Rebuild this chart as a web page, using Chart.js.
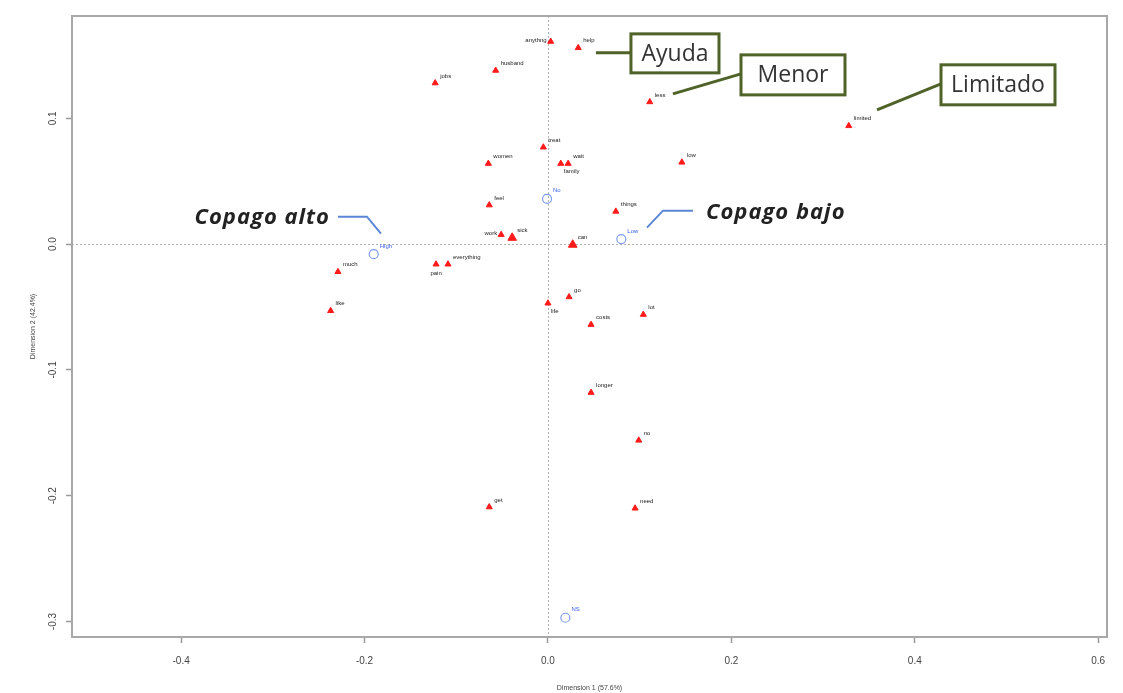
<!DOCTYPE html>
<html>
<head>
<meta charset="utf-8">
<script src="https://cdn.jsdelivr.net/npm/chart.js@4/dist/chart.umd.min.js"></script>
<style>
html,body{margin:0;padding:0;background:#fff;}
#wrap{position:relative;width:1123px;height:693px;}
</style>
</head>
<body>
<div id="wrap"><canvas id="c"></canvas></div>
<script>
// ---- data ----
const termLabels = ['anythng','help','husband','jobs','less','limited','treat','women','family','wait','low','feel','things','work','sick','can','much','everything','pain','like','life','go','costs','lot','longer','no','get','need'];
const termX = [0.003,0.033,-0.057,-0.123,0.111,0.328,-0.005,-0.065,0.014,0.022,0.146,-0.064,0.074,-0.051,-0.039,0.027,-0.229,-0.109,-0.122,-0.237,0.000,0.023,0.047,0.104,0.047,0.099,-0.064,0.095];
const termY = [0.161,0.156,0.138,0.128,0.113,0.094,0.077,0.064,0.064,0.064,0.065,0.031,0.026,0.0075,0.005,-0.0005,-0.022,-0.016,-0.016,-0.053,-0.047,-0.042,-0.064,-0.056,-0.118,-0.156,-0.209,-0.210];
const levelLabels = ['No','Low','High','NS'];
const levelX = [-0.001,0.080,-0.190,0.019];
const levelY = [0.036,0.004,-0.008,-0.297];
const xTicks = [-0.4,-0.2,0.0,0.2,0.4,0.6];
const yTicks = [0.1,0.0,-0.1,-0.2,-0.3];
const xTitle = 'Dimension 1 (57.6%)';
const yTitle = 'Dimension 2 (42.4%)';
const calloutBoxes = [
  {text:'Ayuda',    box:[0.0905,0.1671,0.1865,0.1361], line:[[0.0523,0.152],[0.0905,0.152]]},
  {text:'Menor',    box:[0.2105,0.1504,0.3239,0.1186], line:[[0.1363,0.1194],[0.2105,0.1353]]},
  {text:'Limitado', box:[0.4286,0.1425,0.5529,0.1107], line:[[0.3588,0.1067],[0.4286,0.1274]]}
];
const calloutTexts = [
  {text:'Copago bajo', at:[0.1723,0.025], align:'left',  line:[[0.108,0.0131],[0.1254,0.0266],[0.1581,0.0266]]},
  {text:'Copago alto', at:[-0.2377,0.021], align:'right', line:[[-0.229,0.0218],[-0.1974,0.0218],[-0.1821,0.0083]]}
];

const termPts = termX.map((x,i)=>({x:x,y:termY[i]}));
const levelPts = levelX.map((x,i)=>({x:x,y:levelY[i]}));
const bigTerms = ['sick','can'];
const labelPlace = {anythng:'left', work:'left', pain:'below', family:'belowR', life:'belowR'};

const overlay = {
  id:'overlay',
  beforeDatasetsDraw(chart){
    const {ctx, chartArea:a, scales:{x,y}} = chart;
    ctx.save();
    ctx.strokeStyle = '#b0b0b0'; ctx.lineWidth = 1; ctx.setLineDash([2,2]);
    const x0 = Math.round(x.getPixelForValue(0))+0.5, y0 = Math.round(y.getPixelForValue(0))+0.5;
    ctx.beginPath(); ctx.moveTo(x0,a.top); ctx.lineTo(x0,a.bottom); ctx.stroke();
    ctx.beginPath(); ctx.moveTo(a.left,y0); ctx.lineTo(a.right,y0); ctx.stroke();
    ctx.setLineDash([]);
    ctx.strokeStyle = '#a8a8a8'; ctx.lineWidth = 2;
    ctx.strokeRect(a.left, a.top, a.right-a.left, a.bottom-a.top);
    ctx.restore();
  },
  afterDatasetsDraw(chart){
    const {ctx, scales:{x,y}} = chart;
    ctx.save();
    // point labels
    ctx.font = '6px "Liberation Sans", Arial, sans-serif';
    ctx.textBaseline = 'middle';
    chart.getDatasetMeta(0).data.forEach((el,i)=>{
      const lab = termLabels[i], p = labelPlace[lab];
      ctx.fillStyle = '#222';
      if (p==='left'){ ctx.textAlign='right'; ctx.fillText(lab, el.x-4, el.y-1); }
      else if (p==='below'){ ctx.textAlign='center'; ctx.fillText(lab, el.x, el.y+9); }
      else if (p==='belowR'){ ctx.textAlign='left'; ctx.fillText(lab, el.x+3, el.y+8); }
      else { ctx.textAlign='left'; ctx.fillText(lab, el.x+5, el.y-7); }
    });
    chart.getDatasetMeta(1).data.forEach((el,i)=>{
      ctx.fillStyle = '#3a5ff0'; ctx.textAlign='left';
      ctx.fillText(levelLabels[i], el.x+6, el.y-8);
    });
    // callouts with boxes
    calloutBoxes.forEach(c=>{
      ctx.strokeStyle = '#4f6228'; ctx.lineWidth = 3;
      ctx.beginPath();
      c.line.forEach((pt,k)=>{ const px=x.getPixelForValue(pt[0]), py=y.getPixelForValue(pt[1]); k?ctx.lineTo(px,py):ctx.moveTo(px,py); });
      ctx.stroke();
      const x1=x.getPixelForValue(c.box[0]), y1=y.getPixelForValue(c.box[1]), x2=x.getPixelForValue(c.box[2]), y2=y.getPixelForValue(c.box[3]);
      ctx.fillStyle='#fff'; ctx.fillRect(x1,y1,x2-x1,y2-y1);
      ctx.strokeRect(x1,y1,x2-x1,y2-y1);
      ctx.fillStyle='#333'; ctx.font='23px "Open Sans", sans-serif'; ctx.textAlign='center'; ctx.textBaseline='middle';
      ctx.fillText(c.text,(x1+x2)/2,(y1+y2)/2+1);
    });
    calloutTexts.forEach(c=>{
      ctx.strokeStyle = '#5b86d6'; ctx.lineWidth = 2;
      ctx.beginPath();
      c.line.forEach((pt,k)=>{ const px=x.getPixelForValue(pt[0]), py=y.getPixelForValue(pt[1]); k?ctx.lineTo(px,py):ctx.moveTo(px,py); });
      ctx.stroke();
      ctx.fillStyle='#222'; ctx.font='italic bold 22px "Open Sans", sans-serif'; ctx.textAlign=c.align; ctx.textBaseline='middle';
      ctx.letterSpacing = '1px';
      ctx.fillText(c.text, x.getPixelForValue(c.at[0]), y.getPixelForValue(c.at[1]));
      ctx.letterSpacing = '0px';
    });
    ctx.restore();
  }
};

new Chart(document.getElementById('c'), {
  type:'scatter',
  data:{
    datasets:[
      {label:'terms', data:termPts, pointStyle:'triangle', backgroundColor:'#ff1a1a', borderColor:'#ff1a1a', borderWidth:1,
        pointRadius:(c)=> bigTerms.includes(termLabels[c.dataIndex]) ? 5 : 3.5},
      {label:'levels', data:levelPts, pointStyle:'circle', backgroundColor:'rgba(0,0,0,0)', borderColor:'#7b9cf3', borderWidth:1.2, pointRadius:4.5}
    ]
  },
  options:{
    responsive:true, maintainAspectRatio:false, animation:false,
    layout:{padding:{top:16,right:16,left:0,bottom:0}},
    plugins:{legend:{display:false}, tooltip:{enabled:false}},
    scales:{
      x:{
        type:'linear', min:-0.519, max:0.6096,
        afterBuildTicks:(s)=>{ s.ticks = xTicks.map(v=>({value:v})); },
        afterFit:(s)=>{ s.height = 56; },
        ticks:{ callback:(v)=>Number(v).toFixed(1), font:{size:10, family:'"Liberation Sans Narrow","Liberation Sans",Arial'}, color:'#444', padding:12, maxRotation:0 },
        grid:{ drawOnChartArea:false, drawTicks:true, tickLength:6, tickColor:'#999', tickWidth:1.5 },
        border:{ display:false },
        title:{ display:true, text:xTitle, font:{size:7, family:'"Liberation Sans", Arial'}, color:'#444', padding:{top:0,bottom:1} }
      },
      y:{
        type:'linear', min:-0.3123, max:0.1813,
        afterBuildTicks:(s)=>{ s.ticks = yTicks.map(v=>({value:v})); },
        afterFit:(s)=>{ s.width = 72; },
        ticks:{ callback:(v)=>Number(v).toFixed(1), font:{size:10, family:'"Liberation Sans Narrow","Liberation Sans",Arial'}, color:'#444', padding:4, minRotation:90, maxRotation:90, crossAlign:'center' },
        grid:{ drawOnChartArea:false, drawTicks:true, tickLength:6, tickColor:'#999', tickWidth:1.5 },
        border:{ display:false },
        title:{ display:true, text:yTitle, font:{size:7, family:'"Liberation Sans", Arial'}, color:'#444', padding:{top:29,bottom:0} }
      }
    }
  },
  plugins:[overlay]
});
</script>
</body>
</html>
